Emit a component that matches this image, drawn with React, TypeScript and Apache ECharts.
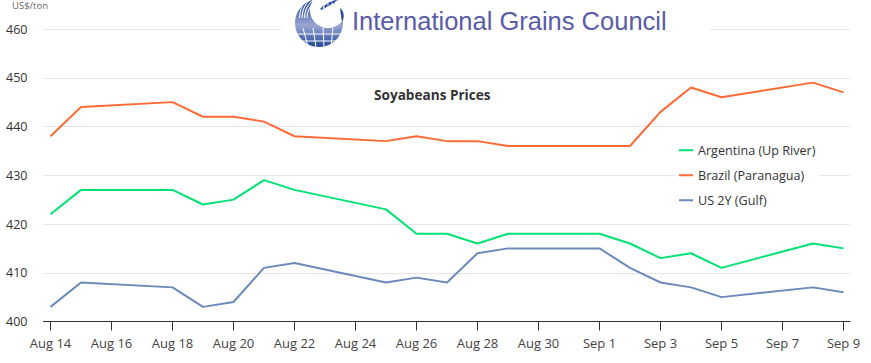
import React, { useEffect, useRef } from "react";
import * as echarts from "echarts";

const dates = ["2025-08-14","2025-08-15","2025-08-18","2025-08-19","2025-08-20","2025-08-21","2025-08-22","2025-08-25","2025-08-26","2025-08-27","2025-08-28","2025-08-29","2025-09-01","2025-09-02","2025-09-03","2025-09-04","2025-09-05","2025-09-08","2025-09-09"];
const argentina = [422,427,427,424,425,429,427,423,418,418,416,418,418,416,413,414,411,416,415];
const brazil = [438,444,445,442,442,441,438,437,438,437,437,436,436,436,443,448,446,449,447];
const us2y = [403,408,407,403,404,411,412,408,409,408,414,415,415,411,408,407,405,407,406];
const tickDates = ["2025-08-14","2025-08-16","2025-08-18","2025-08-20","2025-08-22","2025-08-24","2025-08-26","2025-08-28","2025-08-30","2025-09-01","2025-09-03","2025-09-05","2025-09-07","2025-09-09"];
const tickLabels = ["Aug 14","Aug 16","Aug 18","Aug 20","Aug 22","Aug 24","Aug 26","Aug 28","Aug 30","Sep 1","Sep 3","Sep 5","Sep 7","Sep 9"];

const DAY = 86400000;
const dayIndex = (s: string) => Math.round((Date.UTC(+s.slice(0,4), +s.slice(5,7)-1, +s.slice(8,10)) - Date.UTC(2025,7,14)) / DAY);
const FONT = "'Open Sans', 'Noto Sans', sans-serif";
const BLUE = "#23479c";

echarts.graphic.registerShape("igcCrescent", echarts.graphic.extendPath("M340 8 C344 11 345 17 342 22 C341 18 341 13 340 8 Z", {}));
echarts.graphic.registerShape("igcWheat", echarts.graphic.extendPath("M320 9 L324 5 L322 10 Z M324 6 L328 3 L326 8 Z M328 3 L332 1 L330 6 Z M332 1 L336 0 L334 4 Z M320 11 C325 7 330 3 337 0 L338 0 C331 4 325 8 320 11 Z", {}));

const App = () => {
  const ref = useRef<HTMLDivElement>(null);
  useEffect(() => {
    const chart = echarts.init(ref.current!, undefined, { renderer: "svg" });
    const mk = (name: string, vals: number[], color: string) => ({
      name, type: "line", showSymbol: false, symbol: "none",
      lineStyle: { width: 2, color }, itemStyle: { color },
      data: dates.map((d, i) => [dayIndex(d), vals[i]]),
    });
    const tv = tickDates.map(dayIndex);
    const arcs = [21, 23.5, 26, 28.5].map((r) => ({
      type: "arc", z: 53,
      shape: { cx: 328, cy: 18, r, startAngle: Math.PI * 1.0, endAngle: Math.PI * 1.5 },
      style: { stroke: "#fff", lineWidth: 1, fill: "none" },
    }));
    const meridians = [[303,28,308,47],[313,28,316,47],[323,28,324,47],[333,28,331,47],[297,34,341,34],[300,41,336,41]].map(([x1,y1,x2,y2]) => ({
      type: "line", z: 53, shape: { x1, y1, x2, y2 }, style: { stroke: "#fff", lineWidth: 1 },
    }));
    chart.setOption({
      animation: false,
      backgroundColor: "#fff",
      textStyle: { fontFamily: FONT },
      grid: { left: 43.5, right: 21, top: 29, height: 292.5 },
      xAxis: {
        type: "value",
        min: -7 / 30.5,
        max: 26 + 6.5 / 30.5,
        splitLine: { show: false },
        axisLine: { show: true, lineStyle: { color: "#333", width: 1 } },
        axisTick: { show: true, length: 9, customValues: tv, lineStyle: { color: "#333" } },
        axisLabel: {
          customValues: tv, margin: 15, color: "#444", fontSize: 13, fontFamily: FONT, hideOverlap: false,
          formatter: (v: number) => { const i = tv.indexOf(v); return i >= 0 ? tickLabels[i] : ""; },
        },
      },
      yAxis: {
        type: "value", min: 400, max: 460, interval: 10,
        axisLine: { show: false }, axisTick: { show: false },
        splitLine: { lineStyle: { color: "#e6e6e6", width: 1 } },
        axisLabel: { margin: 16, color: "#333", fontSize: 12.5, fontFamily: FONT, verticalAlign: "middle", lineHeight: 14, padding: [0, 0, 2, 0] },
      },
      legend: {
        show: true, orient: "vertical", left: 675, top: 140, itemGap: 10.5, itemWidth: 14, itemHeight: 2,
        backgroundColor: "#fff", padding: [3, 4, 3, 4],
        icon: "rect",
        textStyle: { color: "#333", fontSize: 12.6, fontFamily: FONT, lineHeight: 14.5 },
        data: ["Argentina (Up River)", "Brazil (Paranagua)", "US 2Y (Gulf)"],
      },
      graphic: [
        { type: "rect", shape: { x: 281, y: 0, width: 429, height: 45 }, style: { fill: "#fff" }, z: 50 },
        { type: "circle", shape: { cx: 319, cy: 23, r: 24 }, style: { fill: new echarts.graphic.LinearGradient(0, 0, 0, 1, [
          { offset: 0, color: BLUE }, { offset: 0.55, color: "#9aa6d2" }, { offset: 1, color: BLUE } ]) }, z: 51 },
        { type: "circle", shape: { cx: 328, cy: 10, r: 18 }, style: { fill: "#fff" }, z: 52 },
        ...arcs,
        ...meridians,
        { type: "igcCrescent", style: { fill: BLUE }, z: 54 },
        { type: "igcWheat", style: { fill: BLUE }, z: 54 },
        { type: "text", x: 352, y: 21, style: { text: "International Grains Council", font: "25.5px 'Liberation Sans', Arial, sans-serif", fill: "#5a5ba8", textVerticalAlign: "middle" }, z: 54 },
        { type: "text", x: 374, y: 94, style: { text: "Soyabeans Prices", font: "bold 13.6px " + FONT, fill: "#333", textVerticalAlign: "middle" }, z: 54 },
        { type: "text", x: 12, y: 5, style: { text: "US$/ton", font: "9.5px " + FONT, fill: "#666", textVerticalAlign: "middle" }, z: 54 },
      ],
      series: [
        mk("Argentina (Up River)", argentina, "#00e272"),
        mk("Brazil (Paranagua)", brazil, "#fe6a35"),
        mk("US 2Y (Gulf)", us2y, "#6b8abc"),
      ],
    });
    return () => chart.dispose();
  }, []);
  return <div ref={ref} style={{ width: 871, height: 363, position: "absolute", left: 0, top: 0 }} />;
};

export default App;
